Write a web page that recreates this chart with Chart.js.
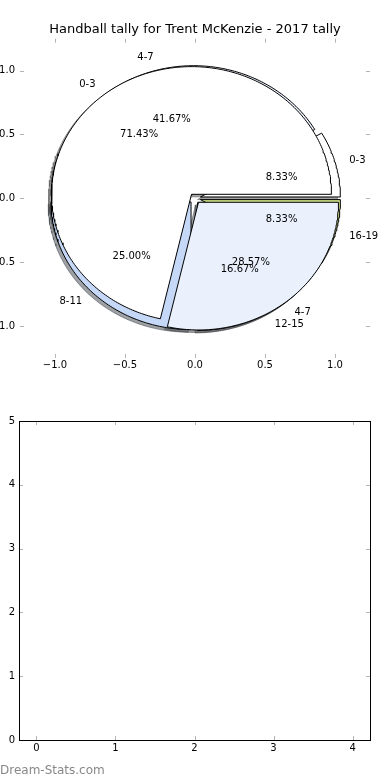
<!DOCTYPE html>
<html><head><meta charset="utf-8">
<script src="https://cdn.jsdelivr.net/npm/chart.js@4/dist/chart.umd.min.js"></script>
<style>
html,body{margin:0;padding:0;background:#fff;}
#wrap{position:relative;width:390px;height:780px;overflow:hidden;background:#fff;}
canvas{position:absolute;left:0;}
#c1{top:0;} #c2{top:390px;}
#wm{position:absolute;left:0;top:763px;font:12px "DejaVu Sans",sans-serif;color:#888888;white-space:nowrap;}
</style></head><body>
<div id="wrap">
<canvas id="c1" width="390" height="390"></canvas>
<canvas id="c2" width="390" height="390"></canvas>
<div id="wm">Dream-Stats.com</div>
</div>
<script>
// ---------- data ----------
const titleText = 'Handball tally for Trent McKenzie - 2017 tally';
const tallyALabels = ['0-3', '4-7', '8-11', '12-15', '16-19'];
const tallyAValues = [1, 5, 3, 2, 1];
const tallyAColors = ['#ffffff', '#eaf0fc', '#c5d8f7', '#e8eefb', '#cde08a'];
const tallyBLabels = ['0-3', '4-7'];
const tallyBValues = [5, 2];
const tallyBColors = ['#ffffff', '#eaf0fc'];
const pieXTicks = [-1.0, -0.5, 0.0, 0.5, 1.0];
const pieYTicks = [-1.0, -0.5, 0.0, 0.5, 1.0];
const emptyXTicks = [0, 1, 2, 3, 4];
const emptyYTicks = [0, 1, 2, 3, 4, 5];

// ---------- geometry helpers ----------
const EXPLODE = 0.04, SHADOW_OFF = -0.02, LABEL_DIST = 1.1, PCT_DIST = 0.6;
const FONT = '"DejaVu Sans", sans-serif';

function wedgeGeom(values) {
  const total = values.reduce((a, b) => a + b, 0);
  let start = 0;
  return values.map(v => {
    const t1 = start, t2 = start + 360 * v / total;
    start = t2;
    const mid = (t1 + t2) / 2 * Math.PI / 180;
    return { t1, t2, mid, ox: EXPLODE * Math.cos(mid), oy: EXPLODE * Math.sin(mid), pct: 100 * v / total };
  });
}
function wedgePoints(g, dx, dy) {
  const cx = g.ox + dx, cy = g.oy + dy;
  const pts = [{ x: cx, y: cy }];
  const n = Math.max(2, Math.ceil(g.t2 - g.t1));
  for (let i = 0; i <= n; i++) {
    const a = (g.t1 + (g.t2 - g.t1) * i / n) * Math.PI / 180;
    pts.push({ x: cx + Math.cos(a), y: cy + Math.sin(a) });
  }
  pts.push({ x: cx, y: cy });
  return pts;
}
function shadowColor(hex) {
  const r = parseInt(hex.slice(1, 3), 16), g = parseInt(hex.slice(3, 5), 16), b = parseInt(hex.slice(5, 7), 16);
  return `rgba(${Math.round(0.3 * r)},${Math.round(0.3 * g)},${Math.round(0.3 * b)},0.5)`;
}

const pies = [
  { labels: tallyALabels, geom: wedgeGeom(tallyAValues), colors: tallyAColors },
  { labels: tallyBLabels, geom: wedgeGeom(tallyBValues), colors: tallyBColors }
];

// draw order: all shadows, then pie A wedges, then pie B wedges
const layers = [];
pies.forEach(p => p.geom.forEach((g, i) => layers.push({ pts: wedgePoints(g, SHADOW_OFF, SHADOW_OFF), bg: shadowColor(p.colors[i]), bc: shadowColor(p.colors[i]) })));
pies.forEach(p => p.geom.forEach((g, i) => layers.push({ pts: wedgePoints(g, 0, 0), bg: p.colors[i], bc: '#000000' })));

const pieDatasets = layers.map((L, k) => ({
  data: L.pts,
  order: layers.length - k,
  fill: 'shape',
  backgroundColor: L.bg,
  borderColor: L.bc,
  borderWidth: 1,
  pointRadius: 0,
  tension: 0,
  borderJoinStyle: 'miter'
}));

const fmt1 = v => (v < 0 ? '\u2212' : '') + Math.abs(v).toFixed(1);
const fmt0 = v => String(v);

// ---------- plugins ----------
const inTicks = {
  id: 'inTicks',
  afterDraw(chart, args, opts) {
    const { ctx, chartArea: a } = chart;
    const xs = chart.scales.x, ys = chart.scales.y;
    ctx.save();
    ctx.strokeStyle = '#b4b4b4';
    ctx.lineWidth = 1;
    ctx.beginPath();
    xs.ticks.forEach(t => {
      const px = Math.round(xs.getPixelForValue(t.value)) + 0.5;
      ctx.moveTo(px, a.top); ctx.lineTo(px, a.top + 4);
      ctx.moveTo(px, a.bottom); ctx.lineTo(px, a.bottom - 4);
    });
    ys.ticks.forEach(t => {
      const py = Math.round(ys.getPixelForValue(t.value)) + 0.5;
      ctx.moveTo(a.left, py); ctx.lineTo(a.left + 4, py);
      ctx.moveTo(a.right, py); ctx.lineTo(a.right - 4, py);
    });
    ctx.stroke();
    if (opts && opts.frame) {
      ctx.strokeStyle = '#000';
      ctx.strokeRect(Math.floor(a.left) + 0.5, Math.floor(a.top) + 0.5, Math.round(a.right - a.left), Math.round(a.bottom - a.top));
    }
    ctx.restore();
  }
};

const pieText = {
  id: 'pieText',
  afterDatasetsDraw(chart) {
    const { ctx } = chart;
    const xs = chart.scales.x, ys = chart.scales.y;
    ctx.save();
    ctx.fillStyle = '#000';
    ctx.font = '10px ' + FONT;
    ctx.textBaseline = 'middle';
    pies.forEach(p => p.geom.forEach((g, i) => {
      const c = Math.cos(g.mid), s = Math.sin(g.mid);
      const lx = g.ox + LABEL_DIST * c, ly = g.oy + LABEL_DIST * s;
      ctx.textAlign = lx > 0 ? 'left' : 'right';
      ctx.fillText(p.labels[i], xs.getPixelForValue(lx), ys.getPixelForValue(ly));
      const tx = g.ox + PCT_DIST * c, ty = g.oy + PCT_DIST * s;
      ctx.textAlign = 'center';
      ctx.fillText(g.pct.toFixed(2) + '%', xs.getPixelForValue(tx), ys.getPixelForValue(ty));
    }));
    ctx.restore();
  }
};

const tickFont = { family: FONT, size: 10, weight: 'normal' };

// ---------- top chart: pie ----------
new Chart(document.getElementById('c1'), {
  type: 'line',
  data: { datasets: pieDatasets },
  options: {
    responsive: false, animation: false, events: [],
    layout: { padding: 0 },
    plugins: {
      legend: { display: false }, tooltip: { enabled: false },
      filler: { drawTime: 'beforeDatasetDraw' },
      title: { display: true, text: titleText, color: '#000', font: { family: FONT, size: 13, weight: 'normal' }, padding: { top: 22.2, bottom: 0.9 } }
    },
    scales: {
      x: {
        type: 'linear', min: -1.25, max: 1.25,
        grid: { display: false, drawTicks: false }, border: { display: false },
        afterBuildTicks: s => { s.ticks = pieXTicks.map(v => ({ value: v })); },
        afterFit: s => { s.height = 390 - 357.9; },
        ticks: { callback: fmt1, color: '#000', font: tickFont, padding: 2, maxRotation: 0, autoSkip: false }
      },
      y: {
        type: 'linear', min: -1.25, max: 1.25,
        grid: { display: false, drawTicks: false }, border: { display: false },
        afterBuildTicks: s => { s.ticks = pieYTicks.map(v => ({ value: v })); },
        afterFit: s => { s.width = 20; },
        ticks: { callback: fmt1, color: '#000', font: tickFont, padding: 5, autoSkip: false }
      },
      yRight: {
        type: 'linear', position: 'right', min: -1.25, max: 1.25,
        grid: { display: false, drawTicks: false }, border: { display: false },
        ticks: { display: false },
        afterFit: s => { s.width = 20; }
      }
    }
  },
  plugins: [pieText, inTicks]
});

// ---------- bottom chart: empty axes ----------
new Chart(document.getElementById('c2'), {
  type: 'line',
  data: { datasets: [] },
  options: {
    responsive: false, animation: false, events: [],
    layout: { padding: { left: 0, right: 20, top: 31, bottom: 0 } },
    plugins: { legend: { display: false }, tooltip: { enabled: false }, inTicks: { frame: true } },
    scales: {
      x: {
        type: 'linear', min: -0.22, max: 4.22,
        grid: { display: false, drawTicks: false }, border: { display: false },
        afterBuildTicks: s => { s.ticks = emptyXTicks.map(v => ({ value: v })); },
        afterFit: s => { s.height = 40; },
        ticks: { callback: fmt0, color: '#000', font: tickFont, padding: 2, maxRotation: 0, autoSkip: false }
      },
      y: {
        type: 'linear', min: 0, max: 5,
        grid: { display: false, drawTicks: false }, border: { display: false },
        afterBuildTicks: s => { s.ticks = emptyYTicks.map(v => ({ value: v })); },
        afterFit: s => { s.width = 19; },
        ticks: { callback: fmt0, color: '#000', font: tickFont, padding: 4, autoSkip: false }
      }
    }
  },
  plugins: [inTicks]
});
</script>
</body></html>
